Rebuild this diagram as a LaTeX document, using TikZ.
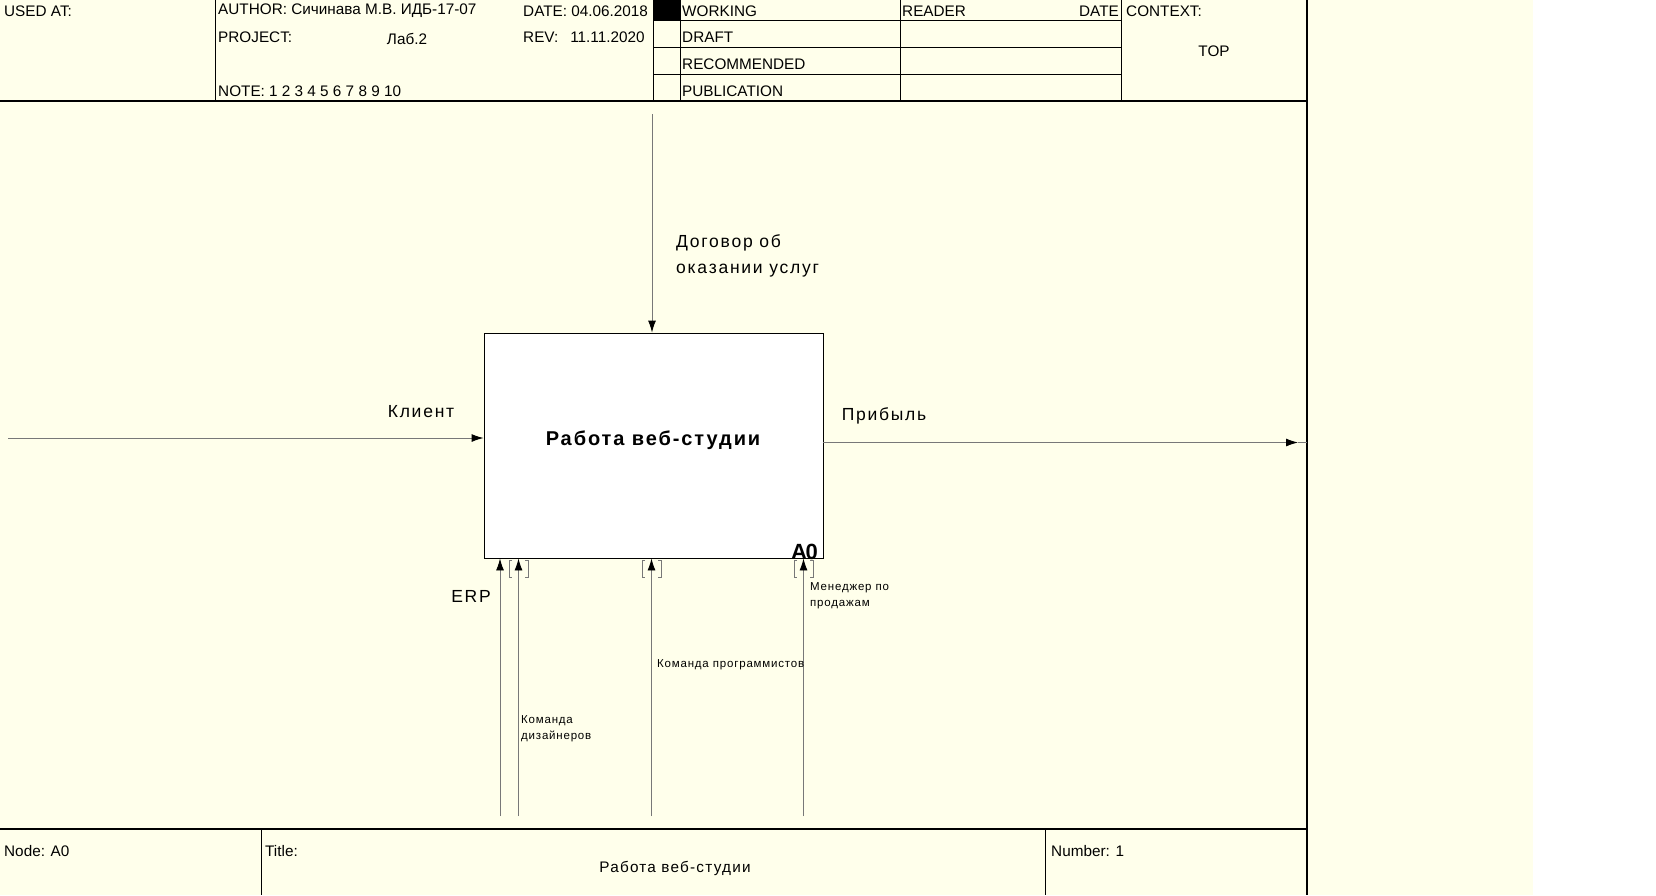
\documentclass[tikz,border=0pt]{standalone}
\usepackage{fontspec}
\setmainfont{Liberation Sans}
\usetikzlibrary{arrows.meta}
\definecolor{cream}{RGB}{255,255,235}
\definecolor{flow}{RGB}{120,120,120}
\begin{document}
\begin{tikzpicture}[x=1pt,y=-1pt,
  hdr/.style={font=\fontsize{15.3}{17}\selectfont, inner sep=0pt, anchor=west},
  lbl/.style={font=\fontsize{17.5}{25.5}\selectfont\addfontfeature{LetterSpace=10}, inner sep=0pt, align=left},
  small/.style={font=\fontsize{11.5}{16}\selectfont\addfontfeature{LetterSpace=7}, inner sep=0pt, align=left, anchor=west},
  frameline/.style={draw=black, line width=1.3pt},
  gridline/.style={draw=black, line width=0.8pt},
  flowarr/.style={draw=flow, line width=0.9pt, -{Latex[length=12pt,width=8pt,color=black]}},
  flowplain/.style={draw=flow, line width=0.9pt},
  tunnel/.style={draw=flow, line width=0.8pt},
  actbox/.style={draw=black, line width=0.9pt, fill=white, minimum width=339pt, minimum height=225pt, inner sep=0pt}
]
\useasboundingbox (0,0) rectangle (1656,895);
\fill[white] (0,0) rectangle (1656,895);
\fill[cream] (0,0) rectangle (1533,895);

% header frame
\draw[frameline] (0,101) -- (1307,101);
\draw[frameline] (1307,0) -- (1307,895);
\draw[gridline] (215,0) -- (215,101);
\draw[gridline] (653,0) -- (653,101);
\draw[gridline] (680,0) -- (680,101);
\draw[gridline] (900,0) -- (900,101);
\draw[gridline] (1121,0) -- (1121,101);
\draw[gridline] (653,20.5) -- (1121,20.5);
\draw[gridline] (653,47.5) -- (1121,47.5);
\draw[gridline] (653,74) -- (1121,74);
\fill[black] (654,0) rectangle (680,20.5);

\node[hdr] (usedat) at (4,11) {USED AT:};
\node[hdr] (author) at (218,11) {AUTHOR: Сичинава М.В. ИДБ-17-07};
\node[hdr] (date) at (523,11) {DATE: 04.06.2018};
\node[hdr] (project) at (218,37.5) {PROJECT:};
\node[hdr, anchor=center] (lab) at (407,38.5) {Лаб.2};
\node[hdr] (rev) at (523,37.5) {REV:\hspace{12pt}11.11.2020};
\node[hdr] (note) at (218,91) {NOTE: 1 2 3 4 5 6 7 8 9 10};
\node[hdr] (working) at (682,11) {WORKING};
\node[hdr] (draft) at (682,37.5) {DRAFT};
\node[hdr] (recom) at (682,64) {RECOMMENDED};
\node[hdr] (publ) at (682,91) {PUBLICATION};
\node[hdr] (reader) at (902,11) {READER};
\node[hdr, anchor=east] (rdate) at (1119,11) {DATE};
\node[hdr] (context) at (1126,11.5) {CONTEXT:};
\node[hdr, anchor=center] (top) at (1214,51) {TOP};

% footer frame
\draw[frameline] (0,829) -- (1307,829);
\draw[gridline] (261,829) -- (261,895);
\draw[gridline] (1045.5,829) -- (1045.5,895);
\node[hdr] (nodeno) at (4,851) {Node: A0};
\node[hdr] (title) at (265,851) {Title:};
\node[hdr, anchor=center, font=\fontsize{15.3}{17}\selectfont\addfontfeature{LetterSpace=8}] (ftitle) at (675,868) {Работа веб-студии};
\node[hdr] (number) at (1051,851) {Number: 1};

% activity box
\node[actbox] (box) at (653.5,445.5) {};
\node[inner sep=0pt, font=\fontsize{20}{22}\selectfont\bfseries\addfontfeature{LetterSpace=9.5}] (boxtitle) at (653,440.5) {Работа веб-студии};
\node[inner sep=0pt, anchor=south east, font=\fontsize{22}{24}\selectfont\bfseries\addfontfeature{LetterSpace=-6}] (boxid) at (818,560) {A0};

% control
\coordinate (ctrlsrc) at (652,114);
\draw[flowarr] (ctrlsrc) -- (ctrlsrc |- box.north);
\node[lbl, anchor=west] (ctrllbl) at (676,256) {Договор об\\оказании услуг};

% input
\coordinate (insrc) at (8,438);
\draw[flowarr] (insrc) -- (insrc -| box.west);
\node[lbl] (inlbl) at (421,411.5) {Клиент};

% output
\coordinate (outstart) at (823,442.5);
\coordinate (outtip) at (1298,442.5);
\coordinate (outend) at (1307,442.5);
\draw[flowarr] (outstart) -- (outtip);
\draw[flowplain] (outtip) -- (outend);
\node[lbl] (outlbl) at (884,416) {Прибыль};

% mechanisms
\coordinate (m1) at (500,816);
\coordinate (m2) at (518.5,816);
\coordinate (m3) at (651.5,816);
\coordinate (m4) at (803.5,816);
\draw[flowarr] (m1) -- (m1 |- box.south);
\draw[flowarr] (m2) -- (m2 |- box.south);
\draw[flowarr] (m3) -- (m3 |- box.south);
\draw[flowarr] (m4) -- (m4 |- box.south);

% tunnel brackets
\foreach \xx in {518.5,651.5,803.5}{
  \draw[tunnel] (\xx-6.5,560) -- (\xx-9.5,560) -- (\xx-9.5,577) -- (\xx-6.5,577);
  \draw[tunnel] (\xx+6.5,560) -- (\xx+9.5,560) -- (\xx+9.5,577) -- (\xx+6.5,577);
}

\node[lbl] (erplbl) at (471,596) {ERP};
\node[small] (m4lbl) at (810,596) {Менеджер по\\продажам};
\node[small] (m3lbl) at (657,665) {Команда программистов};
\node[small] (m2lbl) at (521,729) {Команда\\дизайнеров};
\end{tikzpicture}
\end{document}
